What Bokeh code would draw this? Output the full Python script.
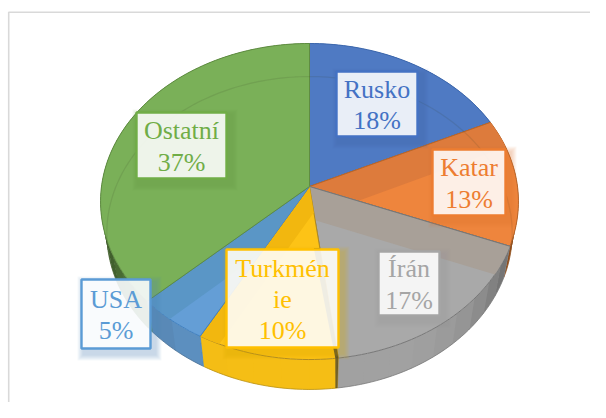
import numpy as np
from bokeh.embed import file_html
from bokeh.resources import INLINE
from bokeh.models import ColumnDataSource
from bokeh.plotting import figure
from bokeh.core.properties import value

# ---- chart data ----
names = ["Rusko", "Katar", "Írán", "Turkménie", "USA", "Ostatní"]
wrapped = ["Rusko", "Katar", "Írán", "Turkmén\nie", "USA", "Ostatní"]
shares = [18, 13, 17, 10, 5, 37]

# ---- styles ----
series_col = ["#4472c4", "#ed7d31", "#a5a5a5", "#ffc000", "#5b9bd5", "#70ad47"]
face_col = ["#4f7ac3", "#ee853d", "#a9a9a9", "#fdc316", "#649ed6", "#7ab058"]
band_col = [None, "#dd7b3c", "#a8a098", "#f2b70f", "#5a96c6", None]
side_col = ["#3f66ab", "#de7327", "#a2a2a2", "#f6bf16", "#5f93c4", "#5f8c42"]
edge_col = ["#3d68ad", "#b9662a", "#777777", "#b08a20", "#4080c0", "#5f8c42"]

# label boxes: left, right, top, bottom in page pixels
box_l = [335, 431, 377, 225, 80, 135]
box_r = [418, 506, 440, 339, 151, 227]
box_t = [70, 148, 250, 248, 278, 111]
box_b = [137, 216, 316, 348, 349, 179]

# ---- projection of the pie ----
CX, CY, A, B, K = 309.0, 186.0, 208.0, 156.6, 0.095
LOW_CY, TOP_CY = 232.5, 201.0


def rim(theta):
    u, v = np.sin(theta), np.cos(theta)
    d = 1 + K * v
    return CX + A * u / d, CY - B * v / d


def low(theta):
    x, y = rim(theta)
    return CX + (x - CX) * 0.97, LOW_CY + (y - TOP_CY) * 0.99


def arc(t0, t1, per=40):
    return np.linspace(t0, t1, max(int(abs(t1 - t0) * per), 3))


def clip_above(px, py, a, b):
    """Keep the polygon part on the side of line a-b that holds the apex."""
    side = lambda x, y: (b[0] - a[0]) * (y - a[1]) - (b[1] - a[1]) * (x - a[0])
    ref = side(CX, CY)
    out_x, out_y = [], []
    n = len(px)
    for i in range(n):
        x0, y0, x1, y1 = px[i], py[i], px[(i + 1) % n], py[(i + 1) % n]
        s0, s1 = side(x0, y0) * ref, side(x1, y1) * ref
        if s0 >= 0:
            out_x.append(x0)
            out_y.append(y0)
        if s0 * s1 < 0:
            t = s0 / (s0 - s1)
            out_x.append(x0 + t * (x1 - x0))
            out_y.append(y0 + t * (y1 - y0))
    return out_x, out_y


def shade(col, f):
    r, g, b = int(col[1:3], 16), int(col[3:5], 16), int(col[5:7], 16)
    return "#%02x%02x%02x" % (int(r * f), int(g * f), int(b * f))


cum = np.cumsum([0] + shares) / sum(shares) * 2 * np.pi
p = figure(width=590, height=402, x_range=(0, 590), y_range=(402, 0),
           output_backend="svg", toolbar_location=None, min_border=0,
           outline_line_color=None, background_fill_color="white")
p.axis.visible = False
p.grid.visible = False

# chart area frame
p.line([8.2, 8.2, 610], [422, 11.7, 11.7], line_color="#d9d9d9", line_width=1.6)

# side wall: coarse overlapping bands, no strokes
for i in range(len(shares)):
    ts = arc(cum[i], cum[i + 1], per=10)
    for t0, t1 in zip(ts[:-1], ts[1:]):
        tt = np.linspace(t0, min(t1 + 0.01, cum[i + 1]), 8)
        tx, ty = rim(tt)
        lx, ly = low(tt)
        u = abs(np.sin((t0 + t1) / 2))
        c = shade(side_col[i], 1 - 0.45 * u ** 5)
        p.patch(list(tx) + list(lx[::-1]), list(ty) + list(ly[::-1]),
                fill_color=c, line_color=None)
    lx, ly = low(arc(cum[i], cum[i + 1]))
    p.line(lx, ly, line_color=shade(side_col[i], 0.75), line_width=0.8)
    sx, sy = rim(cum[i])
    ex, ey = low(cum[i])
    p.line([sx, ex], [sy, ey], line_color=edge_col[i], line_width=1, line_alpha=0.7)

# top faces
for i in range(len(shares)):
    ts = arc(cum[i], cum[i + 1])
    rx, ry = rim(ts)
    px = [CX] + list(rx)
    py = [CY] + list(ry)
    p.patch(px, py, fill_color=face_col[i], line_color=edge_col[i], line_width=1,
            line_join="round")
    if band_col[i]:
        # the wall of the slice's upper radial edge shows through the face
        upper = cum[i] if i < 3 else cum[i + 1]
        bx, by = clip_above(px, py, (CX, CY + 32), low(upper))
        p.patch(bx, by, fill_color=band_col[i], line_color=None)
        ux, uy = rim(upper)
        p.line([CX, ux], [CY, uy], line_color=edge_col[i], line_width=1)

# dark wall seam left of the grey slice
sx, sy = rim(cum[3])
p.patch([CX, CX + (sx - CX) * 0.36, CX + (sx - CX) * 0.36 - 6, sx - 3, sx],
        [CY, CY + (sy - CY) * 0.36, CY + (sy - CY) * 0.36, sy, sy],
        fill_color="#3a3a30", fill_alpha=0.85, line_color=None)
ex, ey = low(cum[3])
p.patch([sx, ex, ex - 2, sx - 3], [sy, ey, ey, sy], fill_color="#3a3a30",
        fill_alpha=0.7, line_color=None)

# lower rim seen through the face
rx, ry = low(arc(np.radians(238), np.radians(470)))
p.line(rx, ry, line_color="#33402a", line_alpha=0.13, line_width=1.2)

# label shadows, boxes, texts
for i in range(len(shares)):
    for g in range(6, 0, -1):
        p.quad(left=box_l[i] + 3 - g, right=box_r[i] + 4 + g, top=box_t[i] + 4 - g,
               bottom=box_b[i] + 5 + g, fill_color=shade(series_col[i], 0.9),
               fill_alpha=0.06, line_color=None)
    p.quad(left=box_l[i] + 1, right=box_r[i] - 1, top=box_t[i] + 1, bottom=box_b[i] - 1,
           fill_color="white", fill_alpha=0.88, line_color=series_col[i], line_width=2.4)

src = ColumnDataSource(dict(
    x=[(a + b) / 2 for a, b in zip(box_l, box_r)],
    y=[(a + b) / 2 + 1 for a, b in zip(box_t, box_b)],
    t=[f"{w}\n{s}%" for w, s in zip(wrapped, shares)],
    c=series_col,
))
p.text(x="x", y="y", text="t", source=src, text_color="c", text_align="center",
       text_baseline="middle", text_font=value("Liberation Serif"),
       text_font_size="26px", text_line_height=1.08)

open("out.html", "w").write(file_html(p, INLINE))
